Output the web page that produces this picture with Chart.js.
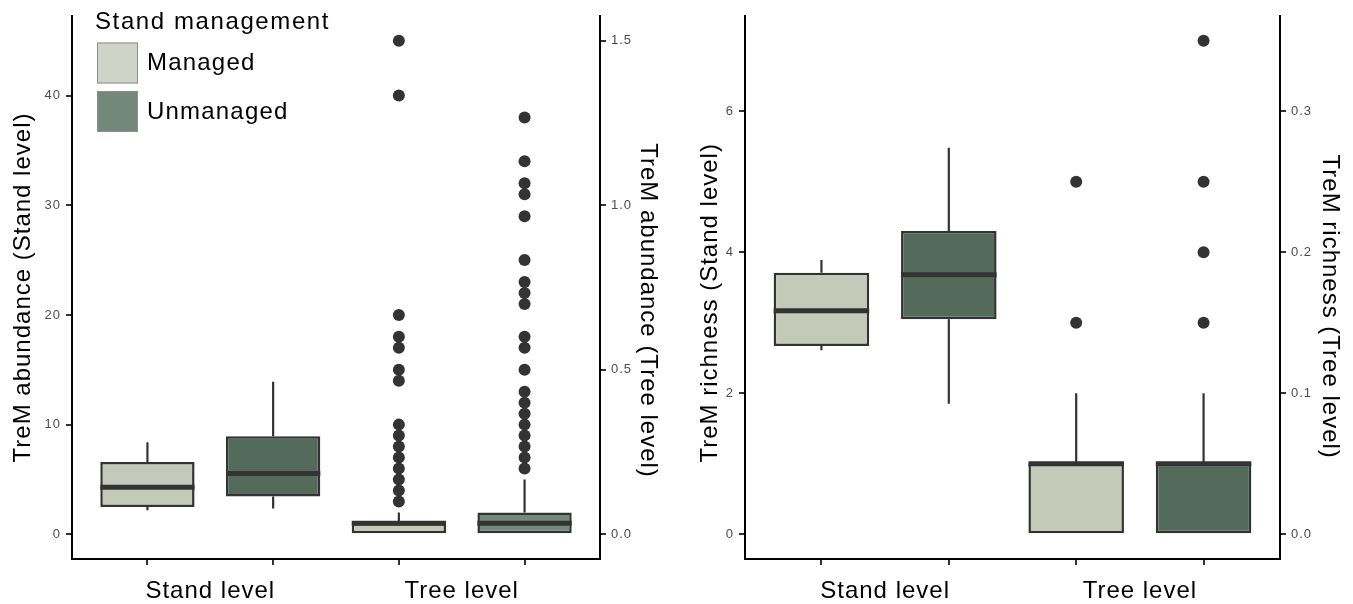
<!DOCTYPE html>
<html>
<head>
<meta charset="utf-8">
<title>TreM abundance and richness</title>
<script src="https://cdn.jsdelivr.net/npm/chart.js@4.4.1/dist/chart.umd.min.js"></script>
<style>
  html, body { margin: 0; padding: 0; background: #fff; }
  .row { display: flex; width: 1353px; height: 604px; }
  canvas { display: block; }
</style>
</head>
<body>
<div class="row">
  <canvas id="abundance" width="676" height="604"></canvas>
  <canvas id="richness" width="677" height="604"></canvas>
</div>
<script>
// x slots: managed / unmanaged at stand level, then managed / unmanaged at tree level
const boxSlots = [1, 2, 3, 4];
const groupTicks = [1.5, 3.5];
const groupLabels = ['Stand level', 'Tree level'];
const seriesNames = ['Managed', 'Unmanaged'];

// TreM abundance (tree level drawn on the stand scale, right axis = value / 30)
const abundLow = [2.2, 2.35, 0, 0];
const abundQ1 = [2.5, 3.45, 0, 0];
const abundMedian = [4.3, 5.55, 1, 1];
const abundQ3 = [6.6, 8.95, 1, 2];
const abundHigh = [8.4, 13.9, 2, 5];
const abundOutManaged = [3, 4, 5, 6, 7, 8, 9, 10, 14, 15, 17, 18, 20, 40, 45];
const abundOutUnmanaged = [6, 7, 8, 9, 10, 11, 12, 13, 15, 17, 18, 21, 22, 23, 25, 29, 31, 32, 34, 38];
const abundTicks = [0, 10, 20, 30, 40];
const abundTreeTicks = [0, 0.5, 1, 1.5];
const abundTreeFactor = 30;

// TreM richness (right axis = value / 20)
const richLow = [2.61, 1.85, 0, 0];
const richQ1 = [2.67, 3.05, 0, 0];
const richMedian = [3.17, 3.68, 1, 1];
const richQ3 = [3.71, 4.3, 1, 1];
const richHigh = [3.89, 5.48, 2, 2];
const richOutManaged = [3, 5];
const richOutUnmanaged = [3, 4, 5, 7];
const richTicks = [0, 2, 4, 6];
const richTreeTicks = [0, 0.1, 0.2, 0.3];
const richTreeFactor = 20;

const FONT = '"Liberation Sans", Arial, Helvetica, sans-serif';
const managedFill = '#C5C9B8';
const unmanagedFill = '#546B5C';
const legendFills = ['#D0D3C8', '#748879'];
const ink = '#333333';

Chart.defaults.font.family = FONT;
Chart.defaults.color = '#000';

// ggplot-like text spacing (reset on every layout/draw since resizing clears ctx state)
const spacingPlugin = {
  id: 'spacing',
  beforeLayout(chart) { chart.ctx.letterSpacing = '1px'; },
  beforeDraw(chart) { chart.ctx.letterSpacing = '1px'; }
};

const legendPlugin = {
  id: 'standLegend',
  afterDraw(chart) {
    if (!chart.options.plugins.standLegend.show) return;
    const { ctx, chartArea } = chart;
    const x0 = chartArea.left + 23, y0 = chartArea.top;
    ctx.save();
    ctx.font = '24px ' + FONT;
    ctx.fillStyle = '#000';
    ctx.textBaseline = 'alphabetic';
    ctx.letterSpacing = '1.6px';
    ctx.fillText('Stand management', x0, y0 + 12.5);
    ctx.letterSpacing = '1.2px';
    seriesNames.forEach((name, i) => {
      const ky = y0 + 26.5 + i * 48.5;
      ctx.fillStyle = legendFills[i];
      ctx.fillRect(x0 + 2, ky, 41, 41);
      ctx.strokeStyle = '#8E8E8E';
      ctx.lineWidth = 1;
      ctx.strokeRect(x0 + 2.5, ky + 0.5, 40, 40);
      ctx.fillStyle = '#000';
      ctx.textBaseline = 'middle';
      ctx.fillText(name, x0 + 52, ky + 21);
    });
    ctx.restore();
  }
};

function buildChart(id, p) {
  const hi = Math.max(...p.high, ...p.outManaged, ...p.outUnmanaged);
  const lo = Math.min(0, ...p.low);
  const pad = (hi - lo) * 0.05;
  const yMin = lo - pad, yMax = hi + pad;
  const half = 0.375; // box half width in slot units (barPercentage 0.75)

  const whiskers = [], medians = [];
  boxSlots.forEach((x, i) => {
    whiskers.push({ x, y: p.q3[i] }, { x, y: p.high[i] }, { x, y: null },
                  { x, y: p.q1[i] }, { x, y: p.low[i] }, { x, y: null });
    medians.push({ x: x - half, y: p.median[i] }, { x: x + half, y: p.median[i] }, { x, y: null });
  });

  return new Chart(document.getElementById(id), {
    type: 'bar',
    data: {
      datasets: [
        {
          type: 'line', label: 'median', data: medians, order: 0,
          borderColor: ink, borderWidth: 5, pointRadius: 0, spanGaps: false
        },
        {
          type: 'scatter', label: 'outliers managed', order: 1,
          data: p.outManaged.map(v => ({ x: boxSlots[2], y: v })),
          backgroundColor: ink, borderWidth: 0, pointRadius: 6
        },
        {
          type: 'scatter', label: 'outliers unmanaged', order: 1,
          data: p.outUnmanaged.map(v => ({ x: boxSlots[3], y: v })),
          backgroundColor: ink, borderWidth: 0, pointRadius: 6
        },
        {
          type: 'bar', label: 'boxes', order: 2,
          data: boxSlots.map((x, i) => ({ x, y: [p.q1[i], p.q3[i]] })),
          backgroundColor: p.fills, borderColor: ink, borderWidth: 2.5,
          borderSkipped: false, barPercentage: 0.75, categoryPercentage: 1
        },
        {
          type: 'line', label: 'whiskers', data: whiskers, order: 3,
          borderColor: ink, borderWidth: 2.2, pointRadius: 0, spanGaps: false
        }
      ]
    },
    options: {
      responsive: false,
      animation: false,
      events: [],
      layout: { padding: { top: 16, left: 0, right: 0, bottom: 0 } },
      plugins: {
        legend: { display: false },
        tooltip: { enabled: false },
        standLegend: { show: p.legend }
      },
      scales: {
        x: {
          type: 'linear', position: 'bottom', min: 0.4, max: 4.6, weight: 0, offset: false,
          afterBuildTicks: ax => { ax.ticks = boxSlots.map(v => ({ value: v })); },
          ticks: { display: false },
          grid: { drawOnChartArea: false, offset: false, tickLength: 6, color: ink, lineWidth: 2 },
          border: { display: true, color: '#000', width: 2 },
          afterFit: ax => { ax.height = 6; }
        },
        xg: {
          type: 'linear', position: 'bottom', min: 0.4, max: 4.6, weight: 1, offset: false,
          afterBuildTicks: ax => { ax.ticks = groupTicks.map(v => ({ value: v })); },
          ticks: {
            callback: (v, i) => groupLabels[i], color: '#000', font: { size: 24 },
            padding: 4, maxRotation: 0, autoSkip: false
          },
          grid: { display: false },
          border: { display: false },
          afterFit: ax => { ax.height = 39; }
        },
        y: {
          type: 'linear', position: 'left', min: yMin, max: yMax,
          afterBuildTicks: ax => { ax.ticks = p.ticks.map(v => ({ value: v })); },
          ticks: { color: '#4D4D4D', font: { size: 13 }, padding: 5 },
          grid: { drawOnChartArea: false, tickLength: 6, color: ink, lineWidth: 2 },
          border: { display: true, color: '#000', width: 2 },
          title: {
            display: true, text: p.leftTitle, color: '#000',
            font: { size: 24 }, padding: { top: p.leftTitlePad, bottom: 0 }
          },
          afterFit: ax => { ax.width = p.leftWidth; }
        },
        y2: {
          type: 'linear', position: 'right', min: yMin / p.factor, max: yMax / p.factor,
          afterBuildTicks: ax => { ax.ticks = p.treeTicks.map(v => ({ value: v })); },
          ticks: { color: '#4D4D4D', font: { size: 13 }, padding: 5, callback: v => v.toFixed(1) },
          grid: { drawOnChartArea: false, tickLength: 6, color: ink, lineWidth: 2 },
          border: { display: true, color: '#000', width: 2 },
          title: {
            display: true, text: p.rightTitle, color: '#000',
            font: { size: 24 }, padding: { top: p.rightTitlePad, bottom: 0 }
          },
          afterFit: ax => { ax.width = p.rightWidth; }
        }
      }
    },
    plugins: [spacingPlugin, legendPlugin]
  });
}

// titles padded with spaces to sit lower along the axis, as in the original figure
buildChart('abundance', {
  low: abundLow, q1: abundQ1, median: abundMedian, q3: abundQ3, high: abundHigh,
  outManaged: abundOutManaged, outUnmanaged: abundOutUnmanaged,
  ticks: abundTicks, treeTicks: abundTreeTicks, factor: abundTreeFactor,
  fills: [managedFill, unmanagedFill, managedFill, '#758A7C'],
  leftTitle: 'TreM abundance (Stand level)', rightTitle: '      TreM abundance (Tree level)',
  leftTitlePad: 9, rightTitlePad: 13.5, leftWidth: 72, rightWidth: 76, legend: true
});

buildChart('richness', {
  low: richLow, q1: richQ1, median: richMedian, q3: richQ3, high: richHigh,
  outManaged: richOutManaged, outUnmanaged: richOutUnmanaged,
  ticks: richTicks, treeTicks: richTreeTicks, factor: richTreeFactor,
  fills: [managedFill, unmanagedFill, managedFill, unmanagedFill],
  leftTitle: 'TreM richness (Stand level)    ', rightTitle: '     TreM richness (Tree level)',
  leftTitlePad: 19.5, rightTitlePad: 8.5, leftWidth: 69, rightWidth: 73, legend: false
});
</script>
</body>
</html>
